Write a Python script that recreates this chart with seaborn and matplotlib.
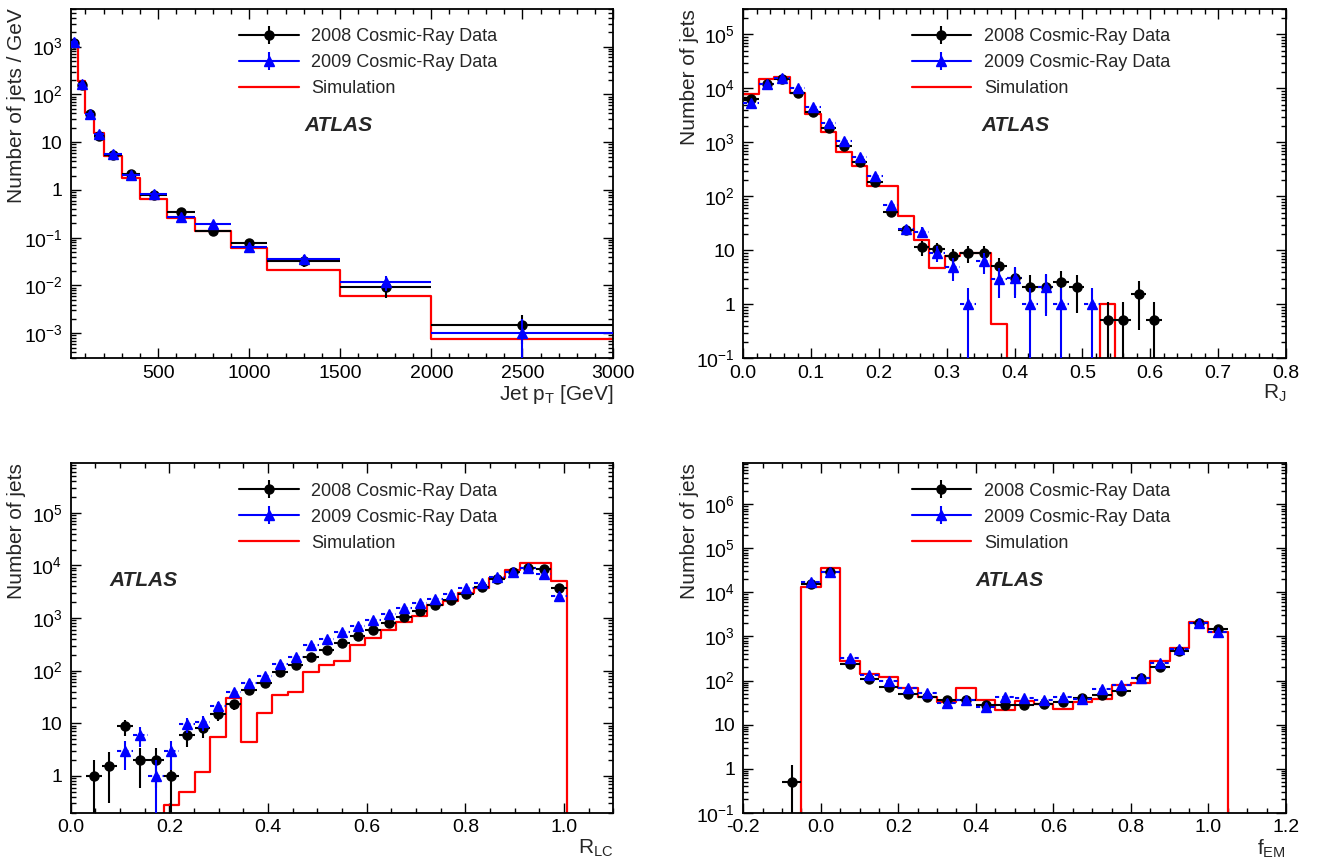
import numpy as np
import pandas as pd
import matplotlib
matplotlib.use("Agg")
import matplotlib.pyplot as plt
from matplotlib.lines import Line2D
from matplotlib.ticker import LogLocator, FixedLocator, FuncFormatter, MultipleLocator, NullFormatter
import seaborn as sns

nan = np.nan

# --- Jet pT (variable bins, per GeV) ---
pt_edges = [20, 60, 100, 150, 200, 300, 400, 550, 700, 900, 1100, 1500, 2000, 3000]
pt_2008 = [1200, 158, 38.5, 13.7, 5.4, 2.14, 0.79, 0.353, 0.139, 0.079, 0.0318, 0.0092, 0.0015]
pt_2008_err = [40, 8, 2.5, 1.2, 0.35, 0.15, 0.06, 0.04, 0.015, 0.01, 0.008, 0.0038, 0.0009]
pt_2009 = [1250, 165, 39, 14.5, 5.6, 2.1, 0.82, 0.265, 0.19, 0.0636, 0.0357, 0.0116, 0.0010]
pt_2009_err = [40, 8, 2.5, 1.2, 0.35, 0.15, 0.06, 0.035, 0.02, 0.01, 0.007, 0.004, 0.0010]
pt_sim = [1050, 186, 40, 15.4, 5.2, 1.78, 0.65, 0.26, 0.139, 0.060, 0.0206, 0.0059, 0.00077]

# --- R_J (35 bins from 0 to 0.8) ---
rj_edges = np.linspace(0.0, 0.8, 36)
rj_2008 = [6400, 11900, 14900, 8300, 3700, 1830, 875, 425, 187, 52, 24.3, 11.6, 10.4, 7.8, 8.8, 8.8,
           5.1, 3.1, 2.1, 2.1, 2.6, 2.1, nan, 0.51, 0.51, 1.53, 0.51, nan, nan, nan, nan, nan, nan, nan, nan]
rj_2008_err = [80, 110, 120, 90, 60, 43, 30, 20, 14, 7, 5, 3.6, 3.4, 3.0, 3.1, 3.1,
               2.0, 1.6, 1.4, 1.4, 1.5, 1.4, nan, 0.6, 0.6, 1.2, 0.6, nan, nan, nan, nan, nan, nan, nan, nan]
rj_2009 = [5300, 11900, 15700, 10000, 4460, 2300, 1080, 532, 241, 70, 25, 22, 9.0, 4.9, 1.0, 6.3,
           3.0, 3.1, 1.0, 2.1, 1.0, nan, 1.0, nan, nan, nan, nan, nan, nan, nan, nan, nan, nan, nan, nan]
rj_2009_err = [70, 110, 125, 100, 67, 48, 33, 23, 16, 8.5, 5, 4.7, 3.0, 2.2, 1.0, 2.6,
               1.7, 1.8, 1.0, 1.5, 1.0, nan, 1.0, nan, nan, nan, nan, nan, nan, nan, nan, nan, nan, nan, nan]
rj_sim = [7750, 14700, 16400, 8100, 3300, 1590, 650, 368, 157, 157, 44, 15.4, 4.75, 8.0, 8.8, 8.8,
          0.44, 0, 0, 0, 0, 0, 0, 1.0, 0, 0, 0, 0, 0, 0, 0, 0, 0, 0, 0]

# --- R_LC (35 bins from 0 to 1.1) ---
rlc_edges = np.linspace(0.0, 1.1, 36)
rlc_2008 = [nan, 1.0, 1.55, 8.7, 2.0, 2.0, 1.0, 6.0, 8.1, 15, 23, 43, 58, 94, 126, 182, 251, 337, 451,
            604, 809, 1037, 1350, 1730, 2190, 2880, 3930, 5410, 7580, 9040, 8400, 3650, nan, nan, nan]
rlc_2008_err = [nan, 1.0, 1.25, 2.9, 1.4, 1.4, 1.0, 2.4, 2.8, 3.9, 4.8, 6.5, 7.6, 9.7, 11, 13.5, 16, 18, 21,
                25, 28, 32, 37, 42, 47, 54, 63, 74, 87, 95, 92, 60, nan, nan, nan]
rlc_2009 = [nan, nan, nan, 3.0, 6.0, 1.0, 3.0, 9.6, 10.4, 21, 39, 58, 78, 136, 182, 304, 401, 537, 720,
            936, 1200, 1560, 1890, 2250, 2880, 3650, 4680, 6000, 7580, 9040, 6740, 2600, nan, nan, nan]
rlc_2009_err = [nan, nan, nan, 1.7, 2.4, 1.0, 1.7, 3.1, 3.2, 4.6, 6.2, 7.6, 8.8, 11.7, 13.5, 17.4, 20, 23, 27,
                31, 35, 40, 43, 47, 54, 60, 68, 77, 87, 95, 82, 51, nan, nan, nan]
rlc_sim = [0, 0, 0, 0, 0, 0, 0.28, 0.5, 1.21, 5.4, 30, 4.5, 15.6, 35, 40, 93, 130, 155, 304,
           419, 586, 832, 1115, 1755, 2090, 3020, 3760, 5820, 8030, 10900, 10900, 5020, 0, 0, 0]

# --- f_EM (28 bins from -0.2 to 1.2) ---
fem_edges = np.linspace(-0.2, 1.2, 29)
fem_2008 = [nan, nan, 0.51, 15100, 28800, 232, 110, 71, 48.5, 43, 37, 35.5, 27.8, 27.8, 27.8, 29.8,
            32.5, 40.7, 46, 57.7, 112, 205, 466, 2040, 1440, nan, nan, nan]
fem_2008_err = [nan, nan, 0.7, 250, 350, 30, 15, 10, 7, 6, 5, 5, 4, 4, 4, 4,
                4.5, 5.5, 6, 7.5, 15, 20, 40, 90, 80, nan, nan, nan]
fem_2009 = [nan, nan, nan, 17100, 28800, 318, 131, 97, 68.7, 52.8, 31.4, 35.5, 25.5, 43, 40.7, 36,
            42, 38.6, 65, 77.6, 112, 253, 508, 2040, 1260, nan, nan, nan]
fem_2009_err = [nan, nan, nan, 260, 350, 35, 16, 12, 9, 8, 6, 6, 5, 7, 6.5, 6,
                6.5, 6.2, 8, 9, 12, 20, 30, 60, 45, nan, nan, nan]
fem_sim = [0, 0, 0, 13200, 36100, 276, 138, 120, 68.7, 43, 33, 66, 37, 21.4, 34, 28.8,
           22, 32.5, 38.6, 79, 86, 276, 555, 2120, 1260, 0, 0, 0]

labels = ["2008 Cosmic-Ray Data", "2009 Cosmic-Ray Data", "Simulation"]

sns.set_style("ticks")
plt.rcParams["font.family"] = ["Liberation Sans", "DejaVu Sans"]
plt.rcParams["mathtext.default"] = "regular"
plt.rcParams["axes.unicode_minus"] = False


def log_label(v, pos):
    e = int(round(np.log10(v)))
    if e == 0:
        return "1"
    if e == 1:
        return "10"
    return r"$10^{%d}$" % e


def lin_label(v, pos, fmt):
    return fmt % (round(v, 6) + 0.0)


def draw_panel(ax, edges, d08, e08, d09, e09, sim, xlim, ylim, xmaj, xmin_, xfmt,
               xlabel, ylabel, atlas_x, dashed=True):
    edges = np.asarray(edges, dtype=float)
    centers = 0.5 * (edges[:-1] + edges[1:])
    half = 0.5 * np.diff(edges)

    hist_df = pd.DataFrame({"x": centers, "w": np.asarray(sim, dtype=float)})
    sns.histplot(data=hist_df, x="x", weights="w", bins=list(edges), element="step",
                 fill=False, color="red", lw=1.6, ax=ax, zorder=2)
    ax.errorbar(centers, d08, xerr=half, yerr=e08, fmt="o", color="black",
                ms=6.5, lw=1.5, capsize=0, zorder=3)
    h09 = ax.errorbar(centers, d09, xerr=half, yerr=e09, fmt="^", color="blue",
                      ms=7, lw=1.5, capsize=0, zorder=4)
    if dashed:
        h09[2][0].set_linestyle((0, (2, 1.5)))

    ax.set_yscale("log")
    ax.set_xlim(*xlim)
    ax.set_ylim(*ylim)

    # only the decades inside the visible range get a label
    decades = 10.0 ** np.arange(np.ceil(np.log10(ylim[0]) - 1e-9),
                                np.floor(np.log10(ylim[1])) + 1)
    ax.yaxis.set_major_locator(FixedLocator(decades))
    ax.yaxis.set_minor_locator(LogLocator(base=10, subs=np.arange(2, 10), numticks=100))
    ax.yaxis.set_major_formatter(FuncFormatter(log_label))
    ax.yaxis.set_minor_formatter(NullFormatter())
    ax.xaxis.set_major_locator(MultipleLocator(xmaj))
    ax.xaxis.set_minor_locator(MultipleLocator(xmin_))
    ax.xaxis.set_major_formatter(FuncFormatter(lambda v, p: lin_label(v, p, xfmt)))

    ax.tick_params(which="both", direction="in", top=True, right=True, width=1.0,
                   labelsize=14, colors="black")
    ax.tick_params(axis="x", which="major", length=7, pad=4.5)
    ax.tick_params(axis="y", which="major", length=7, pad=6)
    ax.tick_params(which="minor", length=3.5)
    for s in ax.spines.values():
        s.set_linewidth(1.3)
        s.set_color("black")

    ax.set_xlabel(xlabel, loc="right", fontsize=15, labelpad=1)
    ax.set_ylabel(ylabel, loc="top", fontsize=15)
    ax.yaxis.set_label_coords(-0.082, 1.0)

    # legend proxies in ROOT style: line + marker + vertical error bar
    l08 = ax.errorbar([nan], [nan], yerr=[1], fmt="-o", color="black", ms=6.5, lw=1.5)
    l09 = ax.errorbar([nan], [nan], yerr=[1], fmt="-^", color="blue", ms=7, lw=1.5)
    lsim = Line2D([0], [0], color="red", lw=1.6)
    ax.legend([l08, l09, lsim], labels, loc="upper left", bbox_to_anchor=(0.31, 0.945),
              frameon=False, fontsize=13, handlelength=3.3, handletextpad=0.7,
              labelspacing=0.5, borderpad=0, borderaxespad=0)

    ax.text(atlas_x, 0.665, "ATLAS", transform=ax.transAxes, fontsize=15,
            fontweight="bold", fontstyle="italic", va="center", ha="left")


fig = plt.figure(figsize=(13.27, 8.61), dpi=100)
ax1 = fig.add_axes([0.0533, 0.5839, 0.4089, 0.4060])
ax2 = fig.add_axes([0.5601, 0.5839, 0.4090, 0.4060])
ax3 = fig.add_axes([0.0533, 0.0561, 0.4089, 0.4058])
ax4 = fig.add_axes([0.5601, 0.0561, 0.4090, 0.4058])

draw_panel(ax1, pt_edges, pt_2008, pt_2008_err, pt_2009, pt_2009_err, pt_sim,
           (20, 3000), (3.0e-4, 6.2e3), 500, 100, "%d",
           r"Jet p$_{T}$ [GeV]", "Number of jets / GeV", 0.43, dashed=False)
draw_panel(ax2, rj_edges, rj_2008, rj_2008_err, rj_2009, rj_2009_err, rj_sim,
           (0.0, 0.8), (0.1, 3.0e5), 0.1, 0.02, "%.1f",
           r"R$_{J}$", "Number of jets", 0.438)
draw_panel(ax3, rlc_edges, rlc_2008, rlc_2008_err, rlc_2009, rlc_2009_err, rlc_sim,
           (0.0, 1.1), (0.2, 8.7e5), 0.2, 0.05, "%.1f",
           r"R$_{LC}$", "Number of jets", 0.072)
draw_panel(ax4, fem_edges, fem_2008, fem_2008_err, fem_2009, fem_2009_err, fem_sim,
           (-0.2, 1.2), (0.1, 8.5e6), 0.2, 0.05, "%.1f",
           r"f$_{EM}$", "Number of jets", 0.427)

fig.savefig("out.png", dpi=100)
